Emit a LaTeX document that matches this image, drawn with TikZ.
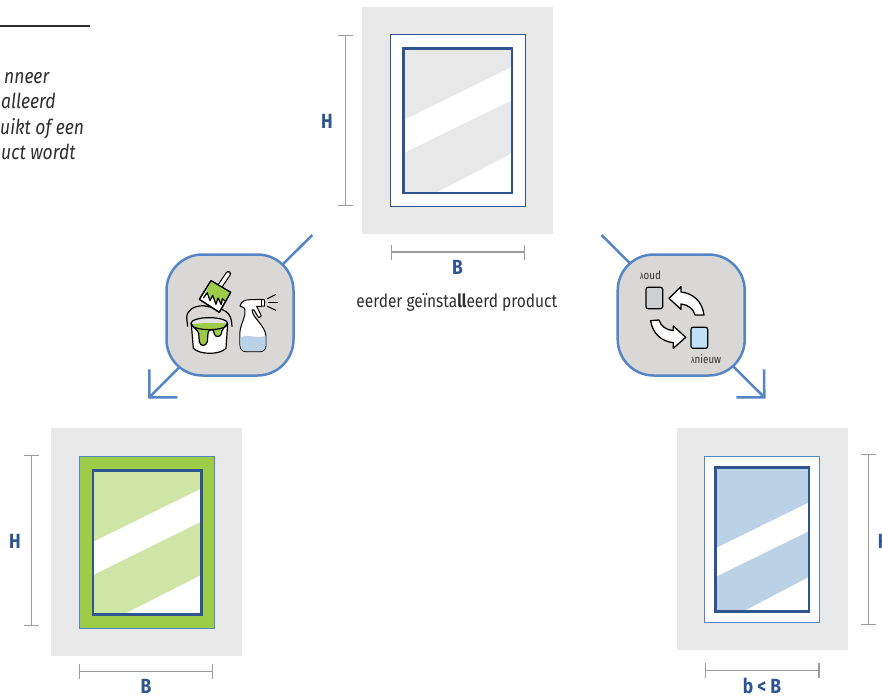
\documentclass[tikz,border=0pt]{standalone}
\usepackage{fontspec}
\setmainfont[FakeStretch=0.85]{Fira Sans}
\usetikzlibrary{arrows.meta}
\definecolor{navy}{HTML}{2F5590}
\definecolor{steel}{HTML}{5585C5}
\definecolor{panelgray}{HTML}{E8E8E8}
\definecolor{dimgray}{HTML}{9C9C9C}
\definecolor{roundfill}{HTML}{D9D8D7}
\definecolor{leaf}{HTML}{9DCC48}
\definecolor{paleleaf}{HTML}{CFE5A5}
\definecolor{paleblue}{HTML}{BBD1E5}
\definecolor{skyblue}{HTML}{BFE0F5}
\definecolor{cardgray}{HTML}{CFD0D2}
\definecolor{ink}{HTML}{2E2E2E}
\tikzset{
  panel/.style={fill=panelgray,draw=none,inner sep=0pt},
  winframe/.style={draw=navy,line width=2.6pt,inner sep=0pt},
  dimline/.style={draw=dimgray,line width=1.3pt,{Bar[width=15pt,line width=1.3pt]}-{Bar[width=15pt,line width=1.3pt]}},
  dimlabel/.style={text=navy,font=\fontsize{20.5}{21}\selectfont\bfseries,inner sep=0pt},
  roundbox/.style={draw=steel,fill=roundfill,line width=2.5pt,rounded corners=36pt,minimum width=127pt,minimum height=121pt,inner sep=0pt},
  flow/.style={draw=steel,line width=2.5pt,-{Straight Barb[length=19.8pt,width=39.6pt,line width=2.5pt]}},
  icon/.style={draw=black,line width=1.2pt,line join=round},
  italictext/.style={anchor=base west,inner sep=0pt,text=ink,font=\fontsize{20.6}{22}\selectfont\itshape},
  small/.style={inner sep=0pt,text=ink,font=\fontsize{11.5}{13}\selectfont},
}
\begin{document}
\begin{tikzpicture}[x=1pt,y=-1pt]
\useasboundingbox (0,0) rectangle (882,695);
\clip (0,0) rectangle (882,695);

% heading rule and cropped text
\coordinate (ruleA) at (0,26);
\coordinate (ruleB) at (90,26);
\draw[ink,line width=2.2pt] (ruleA) -- (ruleB);
\node[italictext] (t1) at (4,84) {nneer};
\node[italictext] (t2) at (1,109) {alleerd};
\node[italictext] (t3) at (0,135) {uikt of een};
\node[italictext] (t4) at (1,160) {uct wordt};

% connectors (behind the rounded boxes)
\coordinate (flowLa) at (312.3,235);
\coordinate (flowLb) at (148,398.5);
\coordinate (flowRa) at (601.5,235);
\coordinate (flowRb) at (765.5,398.5);
\draw[flow] (flowLa) -- (flowLb);
\draw[flow] (flowRa) -- (flowRb);

% ---------- top window
\node[panel,minimum width=190.4pt,minimum height=227.6pt] (panelT) at (457.5,120.5) {};
\node[fill=white,draw=navy,line width=1.6pt,inner sep=0pt,minimum width=135pt,minimum height=171.6pt] (outerT) at (457.8,120.5) {};
\fill[panelgray] (403.7,48.3) rectangle (512,193);
\fill[white] (403.7,120) -- (512,67) -- (512,100) -- (403.7,153) -- cycle;
\fill[white] (435.7,193) -- (512,153.3) -- (512,193) -- cycle;
\node[winframe,minimum width=108.3pt,minimum height=144.7pt] (innerT) at (457.85,120.65) {};
\coordinate (dTa) at (345.5,34.7);
\coordinate (dTb) at (345.5,206.3);
\draw[dimline] (dTa) -- (dTb);
\node[dimlabel] (lTH) at (327,121) {H};
\coordinate (dTc) at (390.5,252);
\coordinate (dTd) at (525,252);
\draw[dimline] (dTc) -- (dTd);
\node[dimlabel] (lTB) at (457.5,267) {B};
\node[inner sep=0pt,text=ink,font=\fontsize{18.2}{20}\selectfont] (cap) at (456.8,302) {eerder geïnsta{\bfseries ll}eerd product};

% ---------- left window
\node[panel,minimum width=190.7pt,minimum height=227.7pt] (panelL) at (146.65,542.15) {};
\node[fill=leaf,draw=steel,line width=.9pt,inner sep=0pt,minimum width=134.7pt,minimum height=171.3pt] (outerL) at (146.65,542.35) {};
\fill[paleleaf] (93,470.3) rectangle (201.3,614.3);
\fill[white] (93,542) -- (201.3,488.5) -- (201.3,521.5) -- (93,575) -- cycle;
\fill[white] (124,614.3) -- (201.3,575) -- (201.3,614.3) -- cycle;
\node[winframe,minimum width=108.3pt,minimum height=144pt] (innerL) at (147.15,542.3) {};
\coordinate (dLa) at (31.7,455);
\coordinate (dLb) at (31.7,626.3);
\draw[dimline] (dLa) -- (dLb);
\node[dimlabel] (lLH) at (15,541.5) {H};
\coordinate (dLc) at (78.7,671.7);
\coordinate (dLd) at (213,671.7);
\draw[dimline] (dLc) -- (dLd);
\node[dimlabel] (lLB) at (146,686.5) {B};

% ---------- right window
\node[panel,minimum width=170.7pt,minimum height=221.7pt] (panelR) at (762.35,539.15) {};
\node[fill=white,draw=steel,line width=1.1pt,inner sep=0pt,minimum width=115pt,minimum height=166pt] (outerR) at (762.2,539.3) {};
\fill[paleblue] (715.3,467.3) rectangle (809,611.7);
\fill[white] (715.3,548.3) -- (809,502.5) -- (809,531) -- (715.3,577) -- cycle;
\fill[white] (742.7,611.7) -- (809,577) -- (809,611.7) -- cycle;
\node[winframe,minimum width=93.7pt,minimum height=144.4pt] (innerR) at (762.15,539.5) {};
\coordinate (dRa) at (868.3,453.7);
\coordinate (dRb) at (868.3,625);
\draw[dimline] (dRa) -- (dRb);
\node[dimlabel,anchor=west] (lRH) at (877.7,541) {H};
\coordinate (dRc) at (704.7,670.3);
\coordinate (dRd) at (819.5,670.3);
\draw[dimline] (dRc) -- (dRd);
\node[dimlabel] (lRB) at (762,685.5) {b < B};

% ---------- rounded boxes
\node[roundbox] (boxL) at (230,315) {};
\node[roundbox] (boxR) at (681.2,315) {};

% ---------- paint icon (coordinates follow a 3x grid)
\begin{scope}[shift={(150,230)},x=.3333pt,y=-.3333pt]
  % bucket handle
  \draw[icon] (113,290) -- (110,262) .. controls (112,240) and (130,228) .. (160,227) -- (215,238) .. controls (235,245) and (245,258) .. (246,290);
  % bucket
  \draw[icon,fill=white] (124,282) -- (130,355) .. controls (150,375) and (210,375) .. (228,355) -- (233,282) -- cycle;
  \draw[icon,fill=cardgray!60] (178,280) ellipse [x radius=55,y radius=17];
  \fill[leaf] (125,283) .. controls (150,278) and (205,278) .. (231,281) .. controls (225,292) and (218,295) .. (216,302) -- (214,312) .. controls (210,322) and (196,322) .. (193,312) -- (190,300) .. controls (182,298) and (175,300) .. (174,310) -- (172,335) .. controls (168,350) and (150,350) .. (148,335) -- (146,310) .. controls (143,298) and (130,296) .. (125,283) -- cycle;
  \draw[icon] (125,283) .. controls (130,296) and (143,298) .. (146,310) -- (148,335) .. controls (150,350) and (168,350) .. (172,335) -- (174,310) .. controls (175,300) and (182,298) .. (190,300) -- (193,312) .. controls (196,322) and (210,322) .. (214,312) -- (216,302) .. controls (218,295) and (225,292) .. (231,281);
  \draw[icon] (123,282) arc [start angle=180,end angle=0,x radius=55,y radius=17];
  % brush handle
  \draw[black,line width=5.5pt,line cap=round] (210,168) -- (235,131);
  \draw[white,line width=3.2pt,line cap=round] (210,168) -- (235,131);
  % brush head
  \draw[icon,fill=white] (183,152) -- (242,187) -- (208,247) -- (148,208) -- cycle;
  \fill[leaf] (183,152) -- (242,187) -- (226,214) -- (217,206) -- (214,224) -- (204,204) -- (198,223) -- (188,196) -- (180,212) -- (172,188) -- (160,204) -- cycle;
  \draw[icon] (183,152) -- (242,187) -- (208,247) -- (148,208) -- cycle;
  \draw[icon] (160,204) -- (172,188) -- (180,212) -- (188,196) -- (198,223) -- (204,204) -- (214,224) -- (217,206) -- (226,214);
  % spray bottle
  \draw[icon,line width=1pt,fill=white] (270,228) .. controls (272,215) and (285,209) .. (300,209) -- (335,208) -- (344,210) -- (344,228) -- (332,229) -- (320,229) -- (334,258) -- (326,263) -- (312,240) -- (306,240) .. controls (308,265) and (345,285) .. (348,318) -- (348,345) .. controls (348,358) and (340,365) .. (330,365) -- (288,365) .. controls (276,365) and (270,355) .. (270,345) -- (270,305) .. controls (272,280) and (288,262) .. (285,240) -- (283,234) -- (270,228) -- cycle;
  \fill[paleblue] (271,322) .. controls (290,312) and (325,326) .. (347,318) -- (347,345) .. controls (347,357) and (340,364) .. (330,364) -- (288,364) .. controls (277,364) and (271,355) .. (271,345) -- cycle;
  \draw[icon,line width=1pt] (334,208) -- (334,229);
  \draw[icon,line width=1pt] (352,206) -- (378,193);
  \draw[icon,line width=1pt] (354,217) -- (384,217);
  \draw[icon,line width=1pt] (352,229) -- (378,241);
\end{scope}

% ---------- wavelength icon
\begin{scope}[shift={(595,230)},x=.3333pt,y=-.3333pt]
  \draw[icon,fill=cardgray,rounded corners=2pt] (153,172) rectangle (203,236);
  \draw[icon,fill=skyblue,rounded corners=2pt] (288,292) rectangle (338,355);
  \draw[icon,fill=white,line width=1.3pt] (222,205) -- (258,170) -- (258,186) .. controls (295,190) and (322,215) .. (327,255) -- (300,255) .. controls (297,238) and (280,224) .. (258,222) -- (258,238) -- cycle;
  \draw[icon,fill=white,line width=1.3pt] (272,322) -- (235,288) -- (235,302) .. controls (215,300) and (198,290) .. (192,270) -- (167,272) .. controls (172,310) and (200,335) .. (235,338) -- (235,355) -- cycle;
  \node[small,anchor=base west] (lamOud) at (135,150) {{\fontsize{8.5}{10}\selectfont λ}oud};
  \node[small,anchor=base west] (lamNew) at (288,402) {{\fontsize{8.5}{10}\selectfont λ}nieuw};
\end{scope}
\end{tikzpicture}
\end{document}
